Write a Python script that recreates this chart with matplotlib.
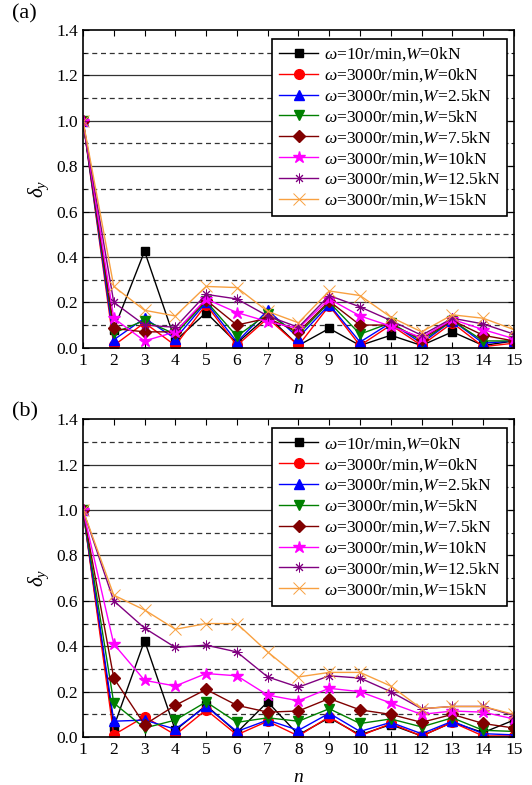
import numpy as np
import matplotlib.pyplot as plt
from matplotlib.ticker import MultipleLocator

plt.rcParams["font.family"] = ["Liberation Serif", "DejaVu Serif"]
plt.rcParams["mathtext.fontset"] = "custom"
plt.rcParams["mathtext.rm"] = "Liberation Serif"
plt.rcParams["mathtext.it"] = "Liberation Serif:italic"

n = np.arange(1, 16)

labels = [
    r"$\omega$=10r/min,$W$=0kN",
    r"$\omega$=3000r/min,$W$=0kN",
    r"$\omega$=3000r/min,$W$=2.5kN",
    r"$\omega$=3000r/min,$W$=5kN",
    r"$\omega$=3000r/min,$W$=7.5kN",
    r"$\omega$=3000r/min,$W$=10kN",
    r"$\omega$=3000r/min,$W$=12.5kN",
    r"$\omega$=3000r/min,$W$=15kN",
]

# (a)
a_w10_0 = [1.0, 0.08, 0.425, 0.03, 0.155, 0.02, 0.14, 0.01, 0.085, 0.01, 0.055, 0.01, 0.07, 0.01, 0.03]
a_w3000_0 = [1.0, 0.01, 0.11, 0.01, 0.19, 0.01, 0.13, 0.01, 0.185, 0.01, 0.10, 0.01, 0.11, 0.005, 0.02]
a_w3000_25 = [1.0, 0.035, 0.13, 0.04, 0.20, 0.025, 0.165, 0.045, 0.19, 0.025, 0.11, 0.02, 0.12, 0.02, 0.03]
a_w3000_5 = [1.0, 0.065, 0.12, 0.06, 0.205, 0.05, 0.15, 0.06, 0.20, 0.06, 0.11, 0.03, 0.12, 0.03, 0.03]
a_w3000_75 = [1.0, 0.085, 0.07, 0.07, 0.21, 0.10, 0.13, 0.07, 0.205, 0.10, 0.10, 0.04, 0.12, 0.055, 0.03]
a_w3000_10 = [1.0, 0.13, 0.03, 0.07, 0.215, 0.155, 0.115, 0.085, 0.215, 0.14, 0.095, 0.045, 0.125, 0.08, 0.04]
a_w3000_125 = [1.0, 0.20, 0.10, 0.09, 0.235, 0.215, 0.14, 0.09, 0.23, 0.18, 0.12, 0.055, 0.13, 0.105, 0.06]
a_w3000_15 = [1.0, 0.27, 0.165, 0.14, 0.27, 0.265, 0.16, 0.11, 0.25, 0.23, 0.135, 0.07, 0.145, 0.13, 0.08]

# (b)
b_w10_0 = [1.0, 0.045, 0.425, 0.03, 0.14, 0.02, 0.155, 0.01, 0.085, 0.01, 0.055, 0.005, 0.065, 0.02, 0.075]
b_w3000_0 = [1.0, 0.01, 0.09, 0.01, 0.12, 0.01, 0.07, 0.005, 0.09, 0.005, 0.06, 0.005, 0.065, 0.005, 0.005]
b_w3000_25 = [1.0, 0.07, 0.075, 0.035, 0.135, 0.025, 0.075, 0.03, 0.105, 0.025, 0.065, 0.015, 0.07, 0.015, 0.01]
b_w3000_5 = [1.0, 0.15, 0.04, 0.075, 0.155, 0.065, 0.085, 0.07, 0.125, 0.06, 0.08, 0.045, 0.085, 0.03, 0.025]
b_w3000_75 = [1.0, 0.26, 0.055, 0.14, 0.21, 0.14, 0.11, 0.115, 0.17, 0.12, 0.10, 0.065, 0.10, 0.06, 0.04]
b_w3000_10 = [1.0, 0.41, 0.25, 0.225, 0.28, 0.27, 0.185, 0.16, 0.215, 0.20, 0.15, 0.10, 0.115, 0.11, 0.08]
b_w3000_125 = [1.0, 0.60, 0.48, 0.395, 0.405, 0.375, 0.265, 0.22, 0.27, 0.26, 0.20, 0.125, 0.135, 0.135, 0.095]
b_w3000_15 = [1.0, 0.625, 0.56, 0.475, 0.50, 0.50, 0.375, 0.265, 0.285, 0.285, 0.225, 0.125, 0.135, 0.135, 0.10]

panel_a = [a_w10_0, a_w3000_0, a_w3000_25, a_w3000_5, a_w3000_75, a_w3000_10, a_w3000_125, a_w3000_15]
panel_b = [b_w10_0, b_w3000_0, b_w3000_25, b_w3000_5, b_w3000_75, b_w3000_10, b_w3000_125, b_w3000_15]

styles = [
    dict(color="black", marker="s", ms=6),
    dict(color="#ff0000", marker="o", ms=7),
    dict(color="#0000ff", marker="^", ms=7),
    dict(color="#008000", marker="v", ms=7),
    dict(color="#800000", marker="D", ms=6),
    dict(color="#ff00ff", marker="*", ms=9),
    dict(color="#800080", marker=(8, 2, 0), ms=7, mew=0.7),
    dict(color="#f8a040", marker="x", ms=8, mew=0.7),
]


def draw_panel(ax, series, tag, tag_y):
    for y in np.arange(0.1, 1.4, 0.1):
        dashed = round(y * 10) % 2 == 1
        ax.axhline(y, color="#333333", lw=0.9, ls=(0, (4, 3)) if dashed else "-", zorder=0)
    for vals, lbl, st in zip(series, labels, styles):
        ax.plot(n, vals, lw=1.0, label=lbl, **st)
    ax.set_xlim(1, 15)
    ax.set_ylim(0, 1.4)
    ax.xaxis.set_major_locator(MultipleLocator(1))
    ax.yaxis.set_major_locator(MultipleLocator(0.2))
    ax.yaxis.set_minor_locator(MultipleLocator(0.1))
    ax.yaxis.set_major_formatter(plt.FuncFormatter(lambda v, p: f"{v:.1f}"))
    ax.tick_params(which="both", direction="in", top=True, right=True, labelsize=12.5, length=4)
    ax.tick_params(which="minor", length=2.5)
    ax.set_xlabel(r"$n$", fontsize=14, labelpad=8)
    ax.set_ylabel(r"$\delta_y$", fontsize=15, labelpad=4)
    for s in ax.spines.values():
        s.set_linewidth(1.2)
    leg = ax.legend(loc="upper right", bbox_to_anchor=(0.984, 0.972), borderaxespad=0,
                    fontsize=12.5, handlelength=2.25, labelspacing=0.18, borderpad=0.4,
                    handletextpad=0.3, fancybox=False, framealpha=1)
    leg.get_frame().set_edgecolor("black")
    leg.get_frame().set_linewidth(1.2)
    ax.text(-0.165, tag_y, tag, transform=ax.transAxes, fontsize=16, va="center", ha="left")


fig = plt.figure(figsize=(5.32, 7.85), dpi=100)
ax_a = fig.add_axes([0.156, 0.557, 0.81, 0.405])
ax_b = fig.add_axes([0.156, 0.061, 0.81, 0.405])
draw_panel(ax_a, panel_a, "(a)", 1.05)
draw_panel(ax_b, panel_b, "(b)", 1.022)

fig.savefig("out.png", dpi=100)
